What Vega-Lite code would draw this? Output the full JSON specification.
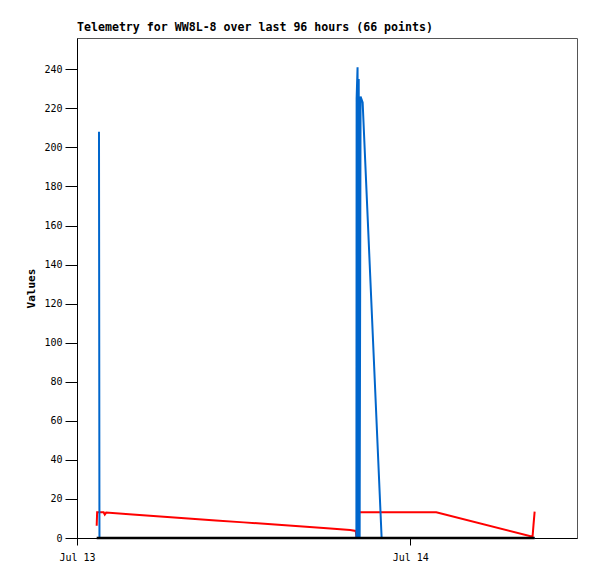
{
  "$schema": "https://vega.github.io/schema/vega-lite/v6.json",
  "width": 500,
  "height": 500,
  "autosize": {"type": "none"},
  "padding": {"left": 77, "top": 38, "right": 20, "bottom": 41},
  "background": "white",
  "config": {"view": {"stroke": "#555555", "strokeWidth": 1}, "font": "DejaVu Sans Mono"},
  "title": {
    "text": "Telemetry for WW8L-8 over last 96 hours (66 points)",
    "anchor": "start",
    "frame": "group",
    "font": "DejaVu Sans Mono",
    "fontSize": 11.6,
    "fontWeight": "bold",
    "color": "black",
    "offset": 4
  },
  "data": {
    "values": [
      {"time": "2023-07-13T01:25:00Z", "series": "red", "value": 6.3},
      {"time": "2023-07-13T01:27:00Z", "series": "red", "value": 13.2},
      {"time": "2023-07-13T01:55:00Z", "series": "red", "value": 13.2},
      {"time": "2023-07-13T02:00:00Z", "series": "red", "value": 12.0},
      {"time": "2023-07-13T02:06:00Z", "series": "red", "value": 13.0},
      {"time": "2023-07-13T04:00:00Z", "series": "red", "value": 12.0},
      {"time": "2023-07-13T06:00:00Z", "series": "red", "value": 11.0},
      {"time": "2023-07-13T08:00:00Z", "series": "red", "value": 10.0},
      {"time": "2023-07-13T10:00:00Z", "series": "red", "value": 9.0},
      {"time": "2023-07-13T12:00:00Z", "series": "red", "value": 8.0},
      {"time": "2023-07-13T14:00:00Z", "series": "red", "value": 7.0},
      {"time": "2023-07-13T16:00:00Z", "series": "red", "value": 6.0},
      {"time": "2023-07-13T18:00:00Z", "series": "red", "value": 5.0},
      {"time": "2023-07-13T19:40:00Z", "series": "red", "value": 4.1},
      {"time": "2023-07-13T20:04:00Z", "series": "red", "value": 3.6},
      {"time": "2023-07-13T20:08:00Z", "series": "red", "value": 0},
      {"time": "2023-07-13T20:14:00Z", "series": "red", "value": 13.2},
      {"time": "2023-07-14T01:52:00Z", "series": "red", "value": 13.2},
      {"time": "2023-07-14T08:48:00Z", "series": "red", "value": 0.7},
      {"time": "2023-07-14T08:52:00Z", "series": "red", "value": 6.6},
      {"time": "2023-07-14T08:57:00Z", "series": "red", "value": 13.5},
      {"time": "2023-07-13T01:35:00Z", "series": "blue", "value": 208},
      {"time": "2023-07-13T01:37:00Z", "series": "blue", "value": 0},
      {"time": "2023-07-13T08:00:00Z", "series": "blue", "value": 0},
      {"time": "2023-07-13T14:00:00Z", "series": "blue", "value": 0},
      {"time": "2023-07-13T20:07:00Z", "series": "blue", "value": 0},
      {"time": "2023-07-13T20:08:00Z", "series": "blue", "value": 225},
      {"time": "2023-07-13T20:12:00Z", "series": "blue", "value": 241},
      {"time": "2023-07-13T20:15:00Z", "series": "blue", "value": 0},
      {"time": "2023-07-13T20:17:00Z", "series": "blue", "value": 235},
      {"time": "2023-07-13T20:21:00Z", "series": "blue", "value": 0},
      {"time": "2023-07-13T20:25:00Z", "series": "blue", "value": 226},
      {"time": "2023-07-13T20:34:00Z", "series": "blue", "value": 223},
      {"time": "2023-07-13T21:56:00Z", "series": "blue", "value": 0},
      {"time": "2023-07-14T02:00:00Z", "series": "blue", "value": 0},
      {"time": "2023-07-14T08:57:00Z", "series": "blue", "value": 0},
      {"time": "2023-07-13T01:25:00Z", "series": "black", "value": 0},
      {"time": "2023-07-13T08:00:00Z", "series": "black", "value": 0},
      {"time": "2023-07-13T14:00:00Z", "series": "black", "value": 0},
      {"time": "2023-07-13T20:08:00Z", "series": "black", "value": 0},
      {"time": "2023-07-14T02:00:00Z", "series": "black", "value": 0},
      {"time": "2023-07-14T08:57:00Z", "series": "black", "value": 0}
    ]
  },
  "encoding": {
    "x": {
      "field": "time",
      "type": "temporal",
      "scale": {
        "type": "utc",
        "domain": [
          {"year": 2023, "month": 7, "date": 13, "utc": true},
          {"year": 2023, "month": 7, "date": 14, "hours": 12, "utc": true}
        ]
      },
      "axis": {
        "values": [
          {"year": 2023, "month": 7, "date": 13, "utc": true},
          {"year": 2023, "month": 7, "date": 14, "utc": true}
        ],
        "labelExpr": "utcFormat(datum.value, '%b %d')",
        "grid": false,
        "title": null,
        "tickSize": 7,
        "labelPadding": 7,
        "labelFlush": false,
        "labelFont": "DejaVu Sans Mono",
        "labelFontSize": 10,
        "labelColor": "black",
        "tickColor": "black",
        "domainColor": "black"
      }
    },
    "y": {
      "field": "value",
      "type": "quantitative",
      "scale": {"domain": [0, 256], "nice": false},
      "axis": {
        "values": [0, 20, 40, 60, 80, 100, 120, 140, 160, 180, 200, 220, 240],
        "grid": false,
        "title": "Values",
        "titleFont": "DejaVu Sans Mono",
        "titleFontSize": 11,
        "titleFontWeight": "bold",
        "titleColor": "black",
        "titlePadding": 7,
        "tickSize": 12,
        "labelPadding": 3,
        "labelFlush": false,
        "labelFont": "DejaVu Sans Mono",
        "labelFontSize": 10,
        "labelColor": "black",
        "tickColor": "black",
        "domainColor": "black"
      }
    }
  },
  "layer": [
    {
      "transform": [{"filter": "datum.series === 'red'"}],
      "mark": {"type": "line", "color": "#ff0000", "strokeWidth": 2}
    },
    {
      "transform": [{"filter": "datum.series === 'blue'"}],
      "mark": {"type": "line", "color": "#0066cc", "strokeWidth": 2}
    },
    {
      "transform": [{"filter": "datum.series === 'black'"}],
      "mark": {"type": "line", "color": "#000000", "strokeWidth": 2.5}
    }
  ]
}
